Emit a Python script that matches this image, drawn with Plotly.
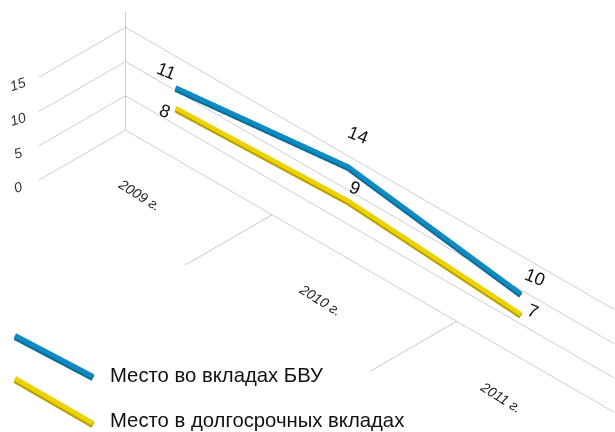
import plotly.graph_objects as go

# Chart data
years = ["2009 г.", "2010 г.", "2011 г."]
deposits_rank = [11, 14, 10]
longterm_rank = [8, 9, 7]
series_names = ["Место во вкладах БВУ", "Место в долгосрочных вкладах"]
value_ticks = [0, 5, 10, 15]
year_positions = [0, 1, 2]
year_boundaries = [0.532, 1.601]

# Scene layout settings
DEPTH = 0.055
CAT_RANGE = [-0.318, 2.514]
Z_MAX = 17.3
GRID = "#a0a0a0"
LINE_COLORS = [("#0b6c98", "#0f8ac2"), ("#b59f00", "#ecd200")]
YEAR_LABEL_SPOTS = [(0.58, 0.04), (0.586, 1.09), (0.52, 2.10)]

fig = go.Figure()

# Category separators on the floor
for b in year_boundaries:
    fig.add_trace(go.Scatter3d(x=[0, 1], y=[b, b], z=[0, 0], mode="lines",
                               line=dict(color=GRID, width=1), hoverinfo="skip", showlegend=False))
# Vertical corner of the walls
fig.add_trace(go.Scatter3d(x=[0, 0], y=[CAT_RANGE[0]] * 2, z=[0, Z_MAX], mode="lines",
                           line=dict(color=GRID, width=1), hoverinfo="skip", showlegend=False))

# Each series is a dark band with a lighter top edge
for vals, (dark, light), name in zip([deposits_rank, longterm_rank], LINE_COLORS, series_names):
    fig.add_trace(go.Scatter3d(x=[DEPTH] * 3, y=year_positions, z=vals, mode="lines",
                               line=dict(color=dark, width=11), name=name, showlegend=False))
    fig.add_trace(go.Scatter3d(x=[DEPTH] * 3, y=year_positions, z=[v + 0.25 for v in vals], mode="lines",
                               line=dict(color=light, width=9), name=name, showlegend=False, hoverinfo="skip"))

ann = []
# Value-axis labels
for v in value_ticks:
    ann.append(dict(x=1, y=CAT_RANGE[0], z=v, text=f"<i>{v}</i>", showarrow=False, textangle=-18,
                    xshift=-21, yshift=-7, font=dict(family="Liberation Sans", size=14, color="#333")))
# Year labels on the floor
for (d, y), t in zip(YEAR_LABEL_SPOTS, years):
    ann.append(dict(x=d, y=y, z=0, text=f"<i>{t}</i>", showarrow=False, textangle=32, xshift=3,
                    font=dict(family="Liberation Sans", size=14, color="#222")))
# Point labels
offsets_a = [(-9, 18), (10, 33), (14, 18)]
offsets_b = [(-11, -1), (7, 15), (12, 5)]
for vals, offs in ((deposits_rank, offsets_a), (longterm_rank, offsets_b)):
    for y, v, (dx, dy) in zip(year_positions, vals, offs):
        ann.append(dict(x=DEPTH, y=y, z=v, text=str(v), showarrow=False, textangle=22,
                        xshift=dx, yshift=dy, font=dict(family="Liberation Sans", size=18, color="#111")))


def axis(rng, **kw):
    return dict(range=rng, autorange=False, showbackground=False, showticklabels=False, ticks="",
                showline=False, zeroline=False, showspikes=False, title=dict(text=""), **kw)


fig.update_layout(
    width=615, height=432, margin=dict(l=0, r=0, t=0, b=0),
    paper_bgcolor="white", showlegend=False,
    scene=dict(
        domain=dict(x=[0, 1], y=[0, 1]),
        xaxis=axis([0, 1], showgrid=False),
        yaxis=axis(CAT_RANGE, showgrid=False),
        zaxis=axis([0, Z_MAX], showgrid=True, gridcolor=GRID, gridwidth=1, tickvals=value_ticks),
        aspectmode="manual", aspectratio=dict(x=0.568, y=3.2, z=0.672),
        camera=dict(projection=dict(type="orthographic"),
                    eye=dict(x=2.5226, y=2.3984, z=2.5795), up=dict(x=0, y=0, z=1),
                    center=dict(x=0.0226, y=-0.1016, z=0.0795)),
        annotations=ann,
    ),
)

# Legend keys drawn as slanted bars with their captions
keys = [(15, 336, 93, 377), (15, 379, 93, 424)]
captions_y = [375, 420]
shapes = []
for (x0, y0, x1, y1), (dark, light), name, cy in zip(keys, LINE_COLORS, series_names, captions_y):
    for off, col, w in ((1.2, dark, 6), (-0.6, light, 5)):
        shapes.append(dict(type="line", xref="paper", yref="paper", x0=x0 / 615, x1=x1 / 615,
                           y0=1 - (y0 + off) / 432, y1=1 - (y1 + off) / 432,
                           line=dict(color=col, width=w)))
    fig.add_annotation(xref="paper", yref="paper", x=108 / 615, y=1 - cy / 432, xanchor="left", yanchor="middle",
                       text=name, showarrow=False, font=dict(family="Liberation Sans", size=20.3, color="#111"))
fig.update_layout(shapes=shapes)

fig.write_html("out.html", config=dict(displayModeBar=False))
